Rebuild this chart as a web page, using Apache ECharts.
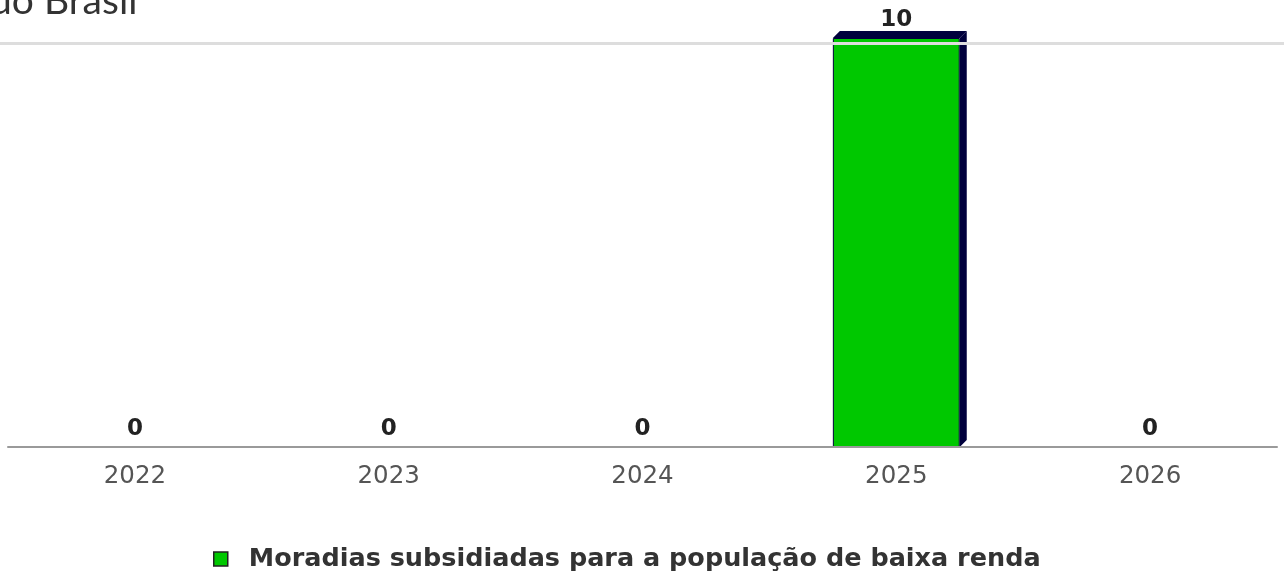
<!DOCTYPE html>
<html>
<head>
<meta charset="utf-8">
<title>Moradias subsidiadas</title>
<script src="https://cdn.jsdelivr.net/npm/echarts@6/dist/echarts.min.js"></script>
<style>
  html, body { margin: 0; padding: 0; background: #ffffff; }
  #chart { width: 1284px; height: 576px; }
</style>
</head>
<body>
<div id="chart"></div>
<script>
// Chart data
const categories = ['2022', '2023', '2024', '2025', '2026'];
const seriesName = 'Moradias subsidiadas para a população de baixa renda';
const values = [0, 0, 0, 10, 0];
const titleText = 'do Brasil';

// Styling
const GREEN = '#00c800';
const NAVY = '#00003c';
const DEPTH = 7;

const chart = echarts.init(document.getElementById('chart'));

// Depth faces (top and right side) of each bar, drawn behind the front face
function renderDepth(params, api) {
  const v = api.value(1);
  if (!v) return null;
  const top = api.coord([api.value(0), v]);
  const base = api.coord([api.value(0), 0]);
  const w = api.size([1, 0])[0] * 0.5;
  const x0 = top[0] - w / 2, x1 = top[0] + w / 2;
  const yT = top[1], yB = base[1];
  return {
    type: 'group',
    children: [
      {
        type: 'polygon',
        shape: { points: [[x0, yT], [x0 + DEPTH, yT - DEPTH], [x1 + DEPTH, yT - DEPTH], [x1, yT]] },
        style: { fill: NAVY }
      },
      {
        type: 'polygon',
        shape: { points: [[x1, yT], [x1 + DEPTH, yT - DEPTH], [x1 + DEPTH, yB - DEPTH], [x1, yB]] },
        style: { fill: NAVY }
      }
    ]
  };
}

chart.setOption({
  animation: false,
  backgroundColor: '#ffffff',
  title: {
    text: titleText,
    left: -15,
    top: -23,
    textStyle: {
      fontFamily: 'Lato',
      fontSize: 39,
      fontWeight: 'normal',
      color: '#333333'
    }
  },
  legend: {
    left: 208,
    top: 541,
    itemWidth: 14,
    itemHeight: 14,
    icon: 'rect',
    selectedMode: false,
    data: [{ name: seriesName, itemStyle: { color: GREEN, borderColor: '#222222', borderWidth: 1.5 } }],
    textStyle: {
      fontFamily: 'DejaVu Sans',
      fontWeight: 'bold',
      fontSize: 25.5,
      color: '#333333',
      padding: [0, 0, 0, 16]
    }
  },
  grid: [
    { left: 8, right: 7, top: 38, bottom: 129, containLabel: false, outerBoundsMode: 'none' },
    { left: 0, right: 0, top: 43, bottom: 129, containLabel: false, outerBoundsMode: 'none' }
  ],
  xAxis: [
    {
      type: 'category',
      gridIndex: 0,
      data: categories,
      axisLine: { lineStyle: { color: '#9a9a9a', width: 2 } },
      axisTick: { show: false },
      axisLabel: {
        color: '#555555',
        fontFamily: 'DejaVu Sans',
        fontSize: 24.5,
        margin: 17
      },
      z: 5
    },
    { type: 'value', gridIndex: 1, show: false }
  ],
  yAxis: [
    {
      type: 'value',
      gridIndex: 0,
      min: 0,
      max: 10,
      interval: 10,
      axisLine: { show: false },
      axisTick: { show: false },
      axisLabel: { show: false },
      splitLine: { show: false }
    },
    {
      type: 'value',
      gridIndex: 1,
      min: 0,
      max: 10,
      interval: 10,
      axisLine: { show: false },
      axisTick: { show: false },
      axisLabel: { show: false },
      splitLine: {
        show: true,
        showMinLine: false,
        lineStyle: { color: '#dddddd', width: 3 }
      },
      z: 10
    }
  ],
  series: [
    {
      name: seriesName + ' (profundidade)',
      type: 'custom',
      xAxisIndex: 0,
      yAxisIndex: 0,
      renderItem: renderDepth,
      data: values.map((v, i) => [i, v]),
      silent: true,
      z: 1
    },
    {
      name: seriesName,
      type: 'bar',
      xAxisIndex: 0,
      yAxisIndex: 0,
      data: values,
      barWidth: '50%',
      itemStyle: { color: GREEN, borderColor: NAVY, borderWidth: 1 },
      label: {
        show: true,
        position: 'top',
        distance: 6,
        fontFamily: 'DejaVu Sans',
        fontWeight: 'bold',
        fontSize: 23,
        color: '#222222'
      },
      z: 2
    }
  ]
});
</script>
</body>
</html>
